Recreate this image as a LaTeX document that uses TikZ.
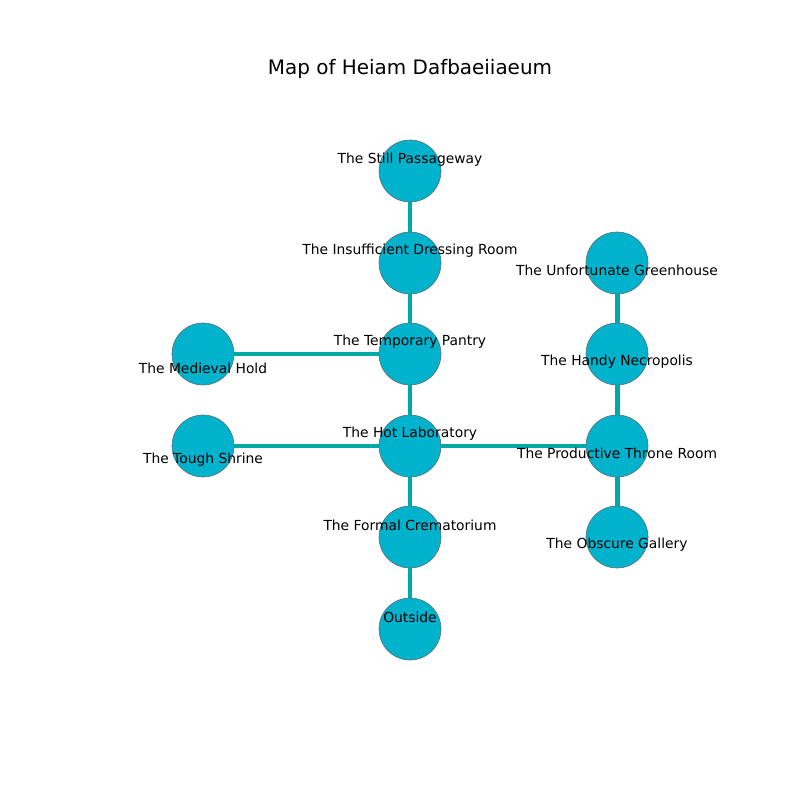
\documentclass[tikz,border=0pt]{standalone}
\usepackage{fontspec}
\setmainfont{DejaVu Sans}
\definecolor{roomfill}{RGB}{0,178,204}
\definecolor{passcol}{RGB}{0,168,168}
\tikzset{
  room/.style={circle, fill=roomfill, draw=black!60, line width=0.4pt, minimum size=0.62in, inner sep=0pt},
  passage/.style={passcol, line width=3.6pt},
  roomlabel/.style={font=\fontsize{10}{12}\selectfont, inner sep=0pt}
}

\begin{document}
\begin{tikzpicture}[x=0.01in, y=-0.01in]
\useasboundingbox (0,0) rectangle (800,800);

\node[font=\fontsize{14.4}{17}\selectfont] (title) at (410,69) {Map of Heiam Dafbaeiiaeum};

% rooms
\node[room] (still) at (410,171) {};
\node[room] (dressing) at (410,263) {};
\node[room] (pantry) at (410,354) {};
\node[room] (hotlab) at (410,446) {};
\node[room] (crema) at (410,537) {};
\node[room] (outside) at (410,629) {};
\node[room] (medieval) at (203,354) {};
\node[room] (shrine) at (203,446) {};
\node[room] (green) at (617,263) {};
\node[room] (necro) at (617,354) {};
\node[room] (throne) at (617,446) {};
\node[room] (gallery) at (617,537) {};

% passages
\draw[passage] (still) -- (dressing);
\draw[passage] (dressing) -- (pantry);
\draw[passage] (pantry) -- (hotlab);
\draw[passage] (hotlab) -- (crema);
\draw[passage] (crema) -- (outside);
\draw[passage] (medieval) -- (pantry);
\draw[passage] (shrine) -- (hotlab);
\draw[passage] (hotlab) -- (throne);
\draw[passage] (green) -- (necro);
\draw[passage] (necro) -- (throne);
\draw[passage] (throne) -- (gallery);

% labels
\node[roomlabel] (still-l) at (410,160) {The Still Passageway};
\node[roomlabel] (dressing-l) at (410,251) {The Insufficient Dressing Room};
\node[roomlabel] (pantry-l) at (410,342) {The Temporary Pantry};
\node[roomlabel] (hotlab-l) at (410,434) {The Hot Laboratory};
\node[roomlabel] (crema-l) at (410,525) {The Formal Crematorium};
\node[roomlabel] (outside-l) at (410,617) {Outside};
\node[roomlabel] (medieval-l) at (203,368) {The Medieval Hold};
\node[roomlabel] (shrine-l) at (203,460) {The Tough Shrine};
\node[roomlabel] (green-l) at (617,270) {The Unfortunate Greenhouse};
\node[roomlabel] (necro-l) at (617,362) {The Handy Necropolis};
\node[roomlabel] (throne-l) at (617,453) {The Productive Throne Room};
\node[roomlabel] (gallery-l) at (617,545) {The Obscure Gallery};

\end{tikzpicture}
\end{document}
